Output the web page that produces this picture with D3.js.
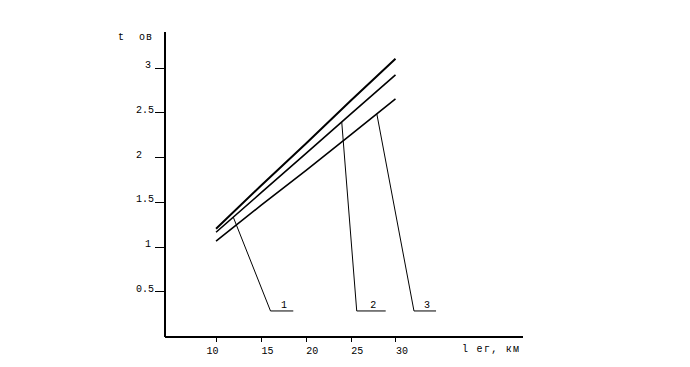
<!DOCTYPE html>
<html>
<head>
<meta charset="utf-8">
<script src="https://cdn.jsdelivr.net/npm/d3@7"></script>
<style>
  body { margin: 0; background: #fff; }
  svg text { font-family: "Liberation Mono", "DejaVu Sans Mono", monospace; font-size: 10px; fill: #000; }
</style>
</head>
<body>
<svg width="690" height="367"></svg>
<script>
// distance, km
const xValues = [10, 15, 20, 25, 30];
// three curves, t ob
const series1 = [1.20, 1.68, 2.15, 2.63, 3.10];
const series2 = [1.16, 1.60, 2.04, 2.48, 2.92];
const series3 = [1.06, 1.46, 1.85, 2.25, 2.65];
const seriesWidth = [2, 1.6, 1.6];

const xTicks = [10, 15, 20, 25, 30];
const yTicks = [0.5, 1, 1.5, 2, 2.5, 3];
const yTickLabels = ["0.5", "1", "1.5", "2", "2.5", "3"];

// leader callouts: which curve, x where it touches, elbow (x,y), end x, label
const leaderNames = ["1", "2", "3"];
const leaderCurve = [1, 1, 2];
const leaderAnchorX = [11.92, 24.01, 27.92];
const leaderElbowX = [16.07, 25.68, 32.06];
const leaderEndX = [18.61, 28.91, 34.52];
const leaderY = 0.28;

const xTitle = "l ег, км";
const yTitle = "t  ов";

let svg = d3.select("svg");

let x = d3.scaleLinear().domain([4.2, 44.1]).range([164, 522]);
let y = d3.scaleLinear().domain([0, 3.41]).range([336, 31]);

// y axis
let yAxis = svg.append("g")
    .attr("transform", `translate(${x(4.2)},0)`)
    .call(d3.axisLeft(y)
        .tickValues(yTicks)
        .tickSize(9)
        .tickSizeOuter(0)
        .tickFormat((d, i) => yTickLabels[i]));

yAxis.select(".domain").attr("stroke-width", 2).attr("shape-rendering", "crispEdges");
yAxis.selectAll(".tick line").attr("shape-rendering", "crispEdges");
yAxis.selectAll(".tick text")
    .attr("font-family", null)
    .attr("font-size", null)
    .attr("text-anchor", "start")
    .attr("x", (d, i) => yTickLabels[i] === "3" || yTickLabels[i] === "1" ? -19 : -28)
    .attr("dy", null)
    .attr("y", 0);

// x axis
let xAxis = svg.append("g")
    .attr("transform", `translate(0,${y(0)})`)
    .call(d3.axisBottom(x)
        .tickValues(xTicks)
        .tickSize(6)
        .tickSizeOuter(0)
        .tickFormat(d3.format("d")));

xAxis.select(".domain").attr("stroke-width", 2).attr("shape-rendering", "crispEdges");
xAxis.selectAll(".tick line").attr("shape-rendering", "crispEdges");
xAxis.selectAll(".tick text")
    .attr("font-family", null)
    .attr("font-size", null)
    .attr("text-anchor", "start")
    .attr("x", d => d === 10 ? -10 : 0)
    .attr("dy", null)
    .attr("y", 18);

// axis titles
svg.append("text")
    .attr("x", x(4.2) - 46)
    .attr("y", y(3.41) + 9)
    .style("white-space", "pre")
    .style("letter-spacing", "1px")
    .text(yTitle);

svg.append("text")
    .attr("x", 462)
    .attr("y", y(0) + 16)
    .style("letter-spacing", "1.3px")
    .text(xTitle);

// curves
let allSeries = [series1, series2, series3];
let line = d3.line()
    .x((d, i) => x(xValues[i]))
    .y(d => y(d));

svg.selectAll(".curve")
    .data(allSeries)
    .enter()
    .append("path")
    .attr("class", "curve")
    .attr("fill", "none")
    .attr("stroke", "black")
    .attr("stroke-width", (d, i) => seriesWidth[i])
    .attr("d", line);

// value of a curve at some x, read along its segments
function curveAt(values, xv) {
    let k = Math.max(0, Math.min(xValues.length - 2, d3.bisectRight(xValues, xv) - 1));
    let t = (xv - xValues[k]) / (xValues[k + 1] - xValues[k]);
    return values[k] + t * (values[k + 1] - values[k]);
}

// leaders
let leaders = svg.append("g");
leaderNames.forEach((name, i) => {
    let ax = leaderAnchorX[i];
    let ay = curveAt(allSeries[leaderCurve[i]], ax);
    leaders.append("path")
        .attr("fill", "none")
        .attr("stroke", "black")
        .attr("stroke-width", 1)
        .attr("d", d3.line()([
            [x(ax), y(ay)],
            [x(leaderElbowX[i]), y(leaderY)],
            [x(leaderEndX[i]), y(leaderY)]
        ]));
    leaders.append("text")
        .attr("x", (x(leaderElbowX[i]) + x(leaderEndX[i])) / 2 + 2)
        .attr("y", y(leaderY) - 3)
        .attr("text-anchor", "middle")
        .text(name);
});
</script>
</body>
</html>
